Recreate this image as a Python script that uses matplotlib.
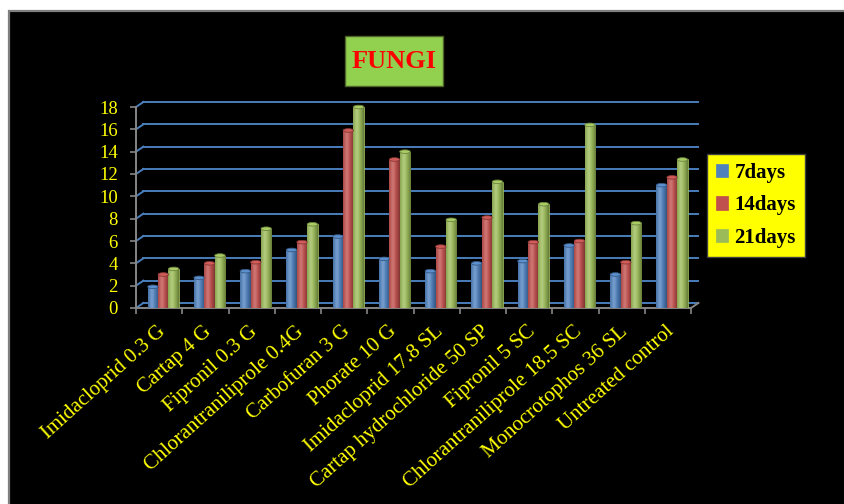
import matplotlib
matplotlib.use('Agg')
import matplotlib.pyplot as plt
import numpy as np
from matplotlib.colors import to_rgb
from matplotlib.patches import Rectangle, Ellipse
from matplotlib import transforms

# data
categories = ['Imidacloprid 0.3 G', 'Cartap 4 G', 'Fipronil 0.3 G',
              'Chlorantraniliprole 0.4G', 'Carbofuran 3 G', 'Phorate 10 G',
              'Imidacloprid 17.8 SL', 'Cartap hydrochloride 50 SP',
              'Fipronil 5 SC', 'Chlorantraniliprole 18.5 SC',
              'Monocrotophos 36 SL', 'Untreated control']
days7 = [1.9, 2.7, 3.3, 5.2, 6.4, 4.4, 3.3, 4.0, 4.2, 5.6, 3.0, 11.0]
days14 = [3.0, 4.0, 4.1, 5.9, 15.9, 13.3, 5.5, 8.1, 5.9, 6.0, 4.1, 11.7]
days21 = [3.5, 4.7, 7.1, 7.5, 18.0, 14.0, 7.9, 11.3, 9.3, 16.4, 7.6, 13.3]
series_labels = ['7days', '14days', '21days']
yticks = [0, 2, 4, 6, 8, 10, 12, 14, 16, 18]
title = 'FUNGI'

colors = ['#4F81BD', '#C0504D', '#9BBB59']
YELLOW = '#FFFF00'
GRID = '#4A7EBB'
AXIS_GREY = '#868686'
SERIF = ['Liberation Serif', 'DejaVu Serif']

W, H = 844, 504
# fake 3d depth of the back wall, in data units
DX, DY = 0.16, 0.45
BW = 0.225


def fx(px):
    return px / W


def fy(py):
    return 1 - py / H


def cylinder(color, n=32):
    base = np.array(to_rgb(color))
    t = np.linspace(0, 1, n)
    light = np.exp(-((t - 0.35) / 0.22) ** 2) * 0.22
    dark = (np.abs(t - 0.38) / 0.62) ** 2 * 0.35
    rgb = base * (1 - dark)[:, None] + (1 - base) * light[:, None]
    return np.clip(rgb, 0, 1)[None, :, :]


fig = plt.figure(figsize=(W / 100, H / 100), dpi=100, facecolor='white')

# black chart area with grey frame
fig.patches.append(Rectangle((fx(9), fy(H + 20)), 1, fy(11) - fy(H + 20),
                             transform=fig.transFigure, facecolor='black',
                             edgecolor='#7F7F7F', linewidth=1.6, zorder=-5))

ax = fig.add_axes([fx(136), fy(308), fx(691) - fx(136), fy(107) - fy(308)])
ax.set_facecolor('none')
ax.set_zorder(2)

n = len(categories)
series = [days7, days14, days21]

# back wall gridlines and left wall diagonals
for v in yticks:
    ax.plot([DX, n + DX], [v + DY, v + DY], color=GRID, lw=1.4,
            zorder=1, clip_on=False)
    ax.plot([0, DX], [v, v + DY], color=GRID, lw=1.4, zorder=1, clip_on=False)
# floor right edge
ax.plot([n, n + DX], [0, DY], color=AXIS_GREY, lw=1.4, zorder=1, clip_on=False)

x = np.arange(n)
for j, (vals, c, lab) in enumerate(zip(series, colors, series_labels)):
    xc = x + 0.5 + 0.09 + (j - 1) * BW
    bars = ax.bar(xc, vals, BW, color=c, edgecolor=c, lw=0.5,
                  label=lab, zorder=3)
    img = cylinder(c)
    top = tuple(np.clip(np.array(to_rgb(c)) * 1.05 + 0.03, 0, 1))
    for b, xi, v in zip(bars, xc, vals):
        im = ax.imshow(img, extent=(xi - BW / 2, xi + BW / 2, 0, v),
                       aspect='auto', interpolation='bicubic', zorder=3.1)
        im.set_clip_path(b)
        ax.add_patch(Ellipse((xi, v), BW, 0.32, facecolor=top,
                             edgecolor=tuple(np.array(to_rgb(c)) * 0.7),
                             lw=0.6, zorder=3.2, clip_on=False))

ax.set_xlim(0, n)
ax.set_ylim(0, 18)
ax.set_aspect('auto')

for s in ['top', 'right']:
    ax.spines[s].set_visible(False)
for s in ['left', 'bottom']:
    ax.spines[s].set_color(AXIS_GREY)
    ax.spines[s].set_linewidth(1.4)

ax.set_yticks(yticks)
ax.set_yticklabels([str(v) for v in yticks], family=SERIF, fontsize=13.5,
                   color=YELLOW)
ax.set_xticks(np.arange(n + 1))
ax.set_xticklabels([])
ax.tick_params(axis='both', color=AXIS_GREY, width=1.2, length=4)
ax.tick_params(axis='y', pad=9)

trans = transforms.blended_transform_factory(ax.transData, ax.transAxes)
for i, lab in enumerate(categories):
    ax.text(i + 0.58, -0.105, lab, transform=trans, rotation=42,
            rotation_mode='anchor', ha='right', va='center',
            family=SERIF, fontsize=15, color=YELLOW)

# title box
fig.patches.append(Rectangle((fx(345), fy(86)), fx(443) - fx(345), fy(36) - fy(86),
                             transform=fig.transFigure, facecolor='#92D050',
                             edgecolor='#4F6228', linewidth=1, zorder=1))
fig.text(fx(394), fy(62), title, ha='center', va='center', color='#FF0000',
         family=SERIF, fontweight='bold', fontsize=19)

leg = fig.legend(loc='upper left', bbox_to_anchor=(fx(707), fy(154)),
                 borderaxespad=0, frameon=True, fancybox=False,
                 facecolor=YELLOW, edgecolor='#404040', framealpha=1,
                 prop={'family': SERIF, 'weight': 'bold', 'size': 15},
                 handlelength=0.6, handleheight=0.6, handletextpad=0.3,
                 labelspacing=0.6, borderpad=0.42)
leg.get_frame().set_linewidth(1.0)
leg.set_zorder(3)

fig.savefig('out.png', dpi=100, facecolor=fig.get_facecolor())
